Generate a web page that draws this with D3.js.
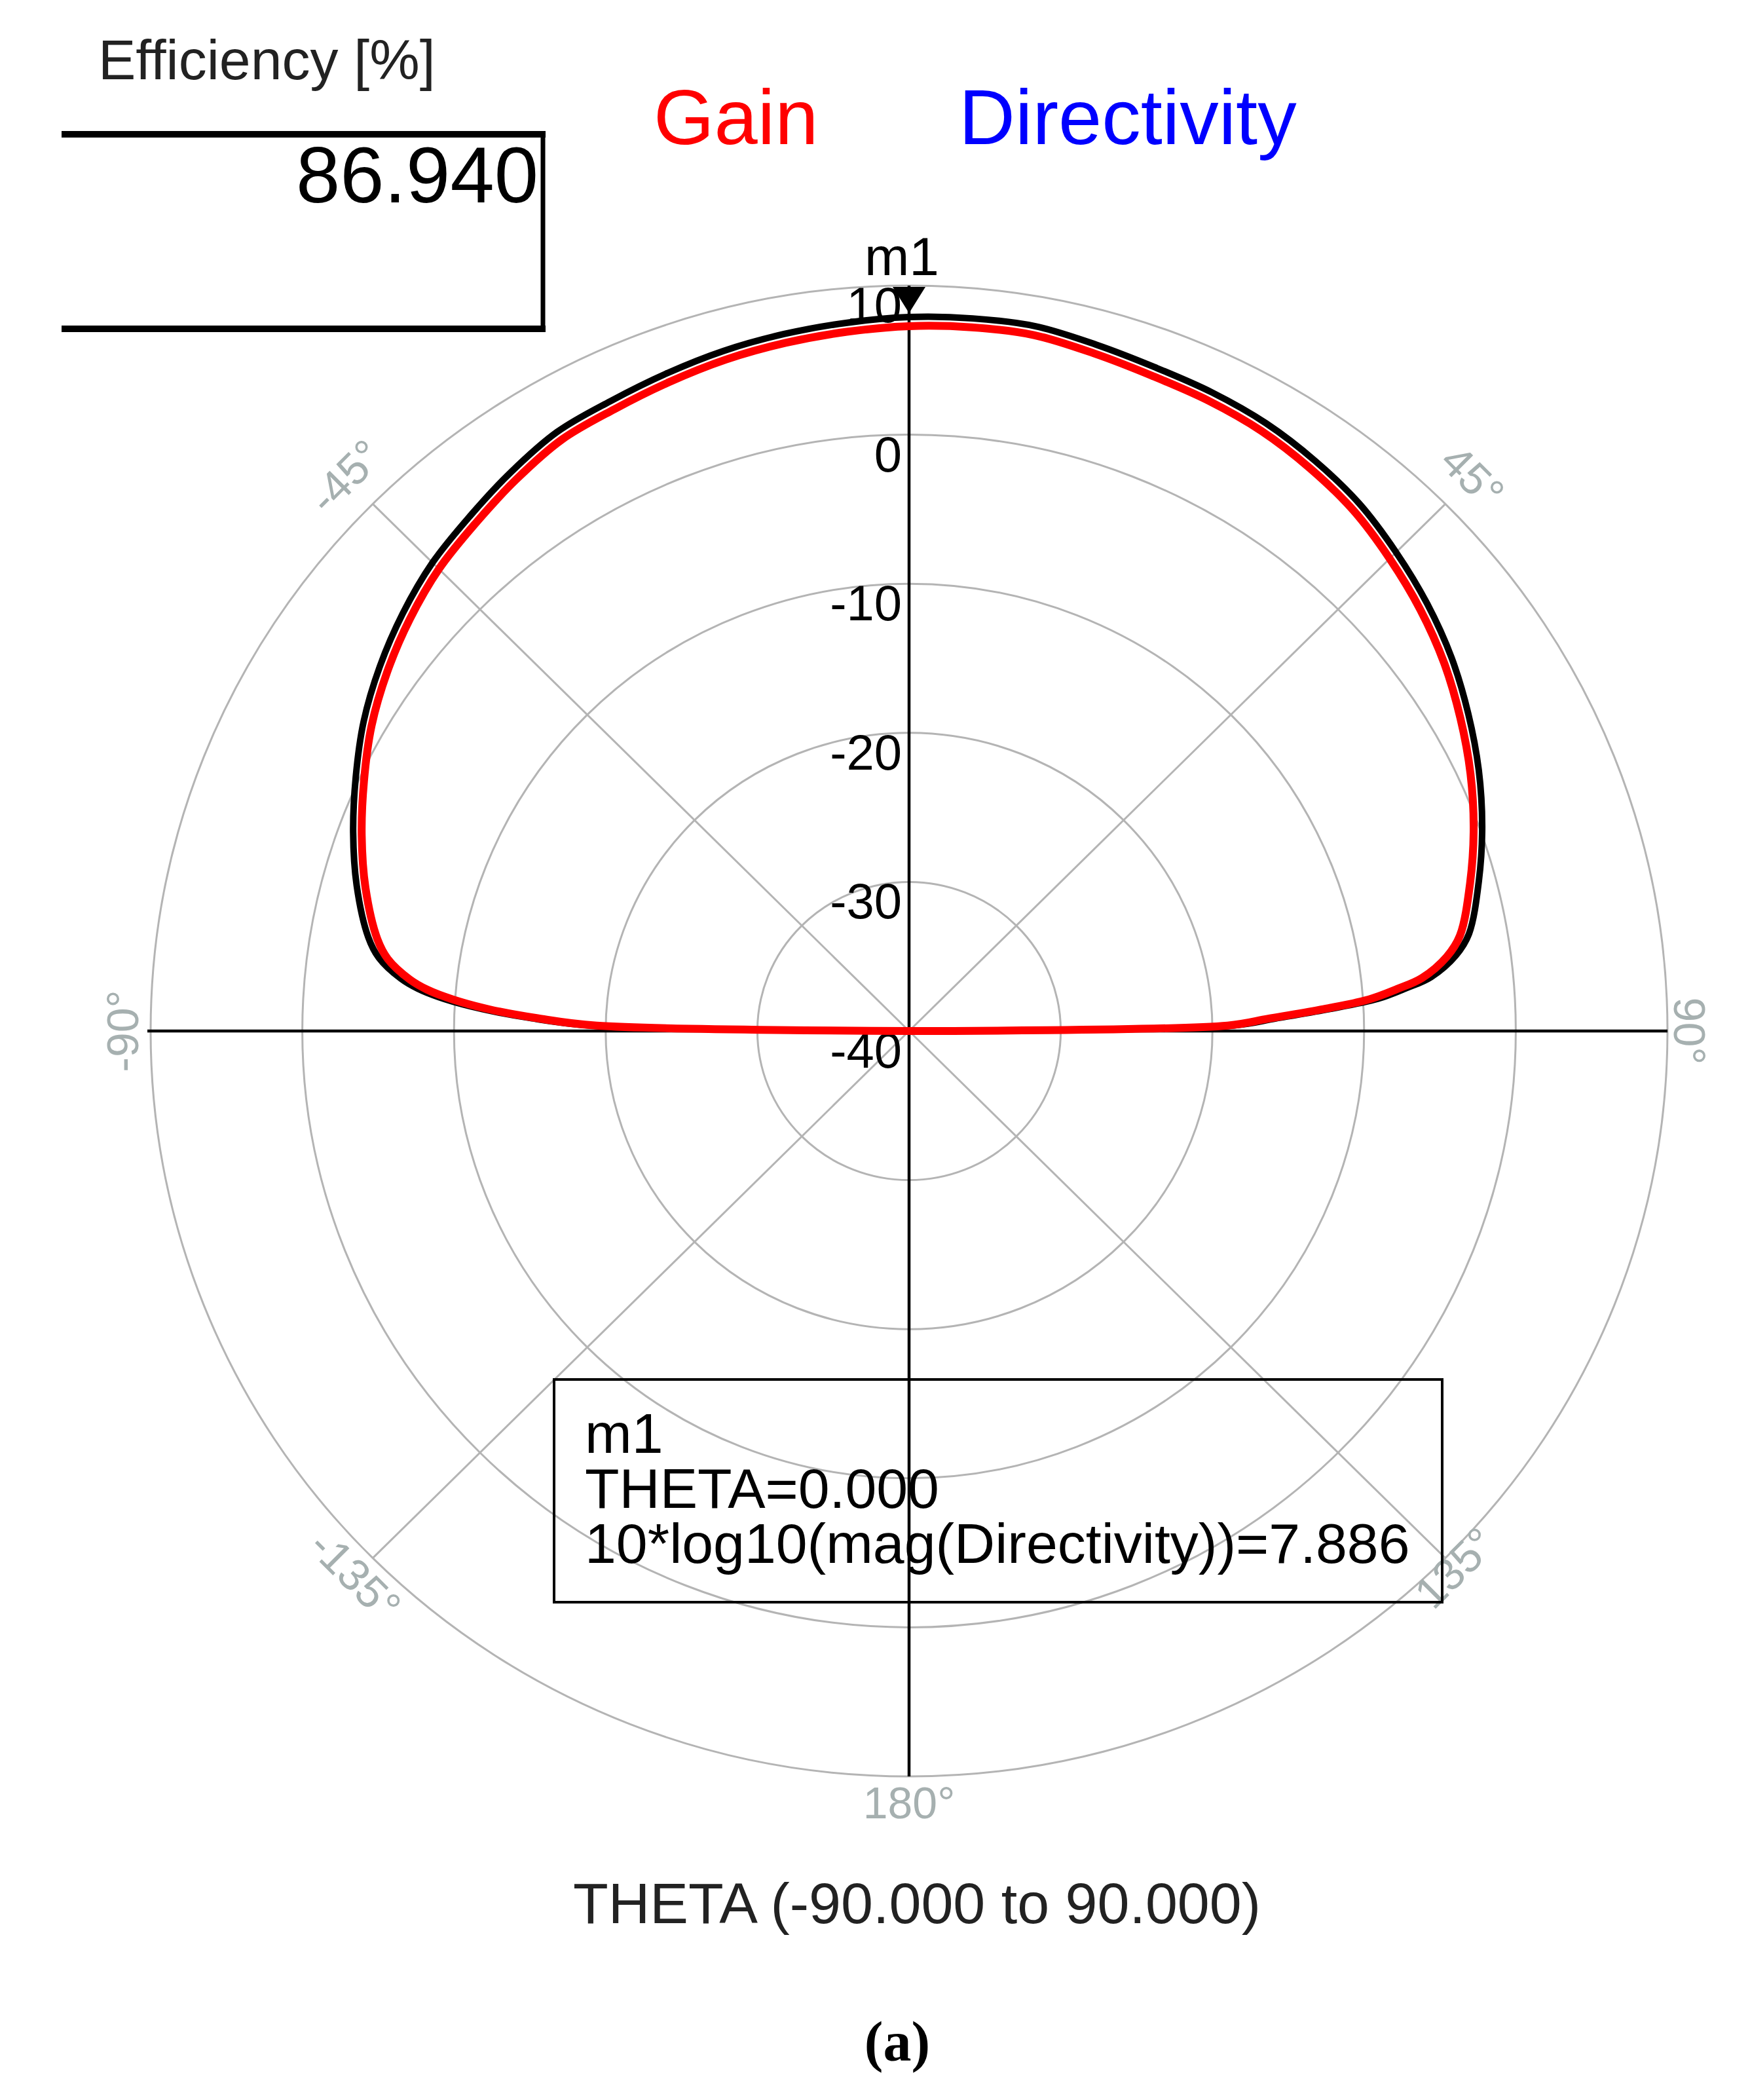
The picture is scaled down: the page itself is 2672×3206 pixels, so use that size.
<!doctype html>
<html>
<head>
<meta charset="utf-8">
<title>Gain / Directivity polar plot</title>
<script src="https://d3js.org/d3.v7.min.js"></script>
<style>
  body { margin: 0; background: #fff; }
  svg { display: block; font-family: "Liberation Sans", Arial, sans-serif; }
</style>
</head>
<body>
<script>

// theta sweep in degrees, values in dB
var theta       = [-90, -89, -88, -87, -86, -85, -84, -82, -80, -75, -70, -65, -60, -55, -50, -45, -40, -35, -30, -25, -20, -15, -10, -5, 0,
                   5, 10, 15, 20, 25, 30, 35, 40, 45, 50, 55, 60, 65, 70, 75, 80, 82, 84, 85, 86, 87, 88, 89, 90];
var gain        = [-45, -19.4, -15.5, -12.3, -9.9, -8.1, -6.9, -5.3, -4.4, -2.9, -1.6, -0.35, 0.92, 2.0, 2.97, 3.83, 4.46, 5.16, 5.8, 6.01, 6.31, 6.63, 6.87, 7.08, 7.28,
                   7.38, 7.4, 7.06, 6.78, 6.66, 6.47, 6.08, 5.58, 4.81, 3.99, 3.06, 1.97, 0.84, -0.39, -1.71, -3.12, -4.2, -6.0, -7.7, -9.6, -12.9, -16.3, -19.0, -45];
var directivity = [-45, -19.0, -15.0, -11.8, -9.3, -7.5, -6.3, -4.7, -3.8, -2.3, -1.0, 0.25, 1.52, 2.6, 3.57, 4.43, 5.06, 5.76, 6.4, 6.61, 6.91, 7.23, 7.47, 7.68, 7.886,
                   7.98, 8.0, 7.66, 7.38, 7.26, 7.07, 6.68, 6.18, 5.41, 4.59, 3.66, 2.57, 1.44, 0.21, -1.11, -2.52, -3.6, -5.4, -7.1, -9.0, -12.4, -15.8, -18.6, -45];

var ringValues = [10, 0, -10, -20, -30, -40];
var spokeAngles = [-135, -45, 45, 135];
var angleTicks = [-90, -45, 45, 90, 135, 180, -135];
var angleTickLabels = ["-90\u00b0", "-45\u00b0", "45\u00b0", "90\u00b0", "135\u00b0", "180\u00b0", "-135\u00b0"];

var efficiencyTitle = "Efficiency [%]";
var efficiencyValue = "86.940";
var markerName = "m1";
var markerTheta = 0;
var markerValue = 7.886;
var markerLines = ["m1", "THETA=0.000", "10*log10(mag(Directivity))=7.886"];
var legendNames = ["Gain", "Directivity"];
var legendColors = ["#ff0000", "#0000ff"];
var xTitle = "THETA (-90.000 to 90.000)";
var caption = "(a)";

var width = 2672, height = 3206;
var cx = 1388, cy = 1574;

var svg = d3.select("body").append("svg").attr("width", width).attr("height", height);
svg.append("rect").attr("width", width).attr("height", height).attr("fill", "#fff");

// slightly wider than tall, like the exported picture
var rx = d3.scaleLinear().domain([-40, 10]).range([0, 1158]).clamp(true);
var ry = d3.scaleLinear().domain([-40, 10]).range([0, 1138]).clamp(true);
var rad = d3.scaleLinear().domain([0, 180]).range([0, Math.PI]);

function px(t, v) { return cx + rx(v) * Math.sin(rad(t)); }
function py(t, v) { return cy - ry(v) * Math.cos(rad(t)); }

var grid = svg.append("g").attr("fill", "none").attr("stroke", "#b4b4b4").attr("stroke-width", 3);

grid.selectAll("ellipse").data(ringValues.filter(function(v) { return v > -40; }))
  .enter().append("ellipse")
  .attr("cx", cx).attr("cy", cy)
  .attr("rx", function(v) { return rx(v); })
  .attr("ry", function(v) { return ry(v); });

grid.selectAll("line").data(spokeAngles)
  .enter().append("line")
  .attr("x1", cx).attr("y1", cy)
  .attr("x2", function(a) { return px(a, 10); })
  .attr("y2", function(a) { return py(a, 10); });

// main axes
var axes = svg.append("g").attr("stroke", "#000").attr("stroke-width", 4.5);
axes.append("line").attr("x1", px(-90, 10) - 5).attr("y1", cy).attr("x2", px(90, 10)).attr("y2", cy);
axes.append("line").attr("x1", cx).attr("y1", py(0, 10)).attr("x2", cx).attr("y2", py(180, 10));

// radial tick labels
svg.append("g").selectAll("text").data(ringValues)
  .enter().append("text")
  .attr("x", cx - 11)
  .attr("y", function(v) { return cy - ry(v) + 56; })
  .attr("text-anchor", "end")
  .attr("font-size", 76)
  .attr("fill", "#000")
  .text(function(v) { return v; });

// angle labels
var labelGap = { "-90": 43, "90": 34, "180": 40, "45": 60, "-45": 60, "135": 20, "-135": 37 };
svg.append("g").selectAll("text").data(angleTicks)
  .enter().append("text")
  .attr("transform", function(a) {
    var g = labelGap[a];
    var x = cx + (rx(10) + g) * Math.sin(rad(a));
    var y = cy - (ry(10) + g) * Math.cos(rad(a));
    var rot = Math.abs(a) <= 90 ? a : (a > 0 ? a - 180 : a + 180);
    return "translate(" + x + "," + y + ") rotate(" + rot + ")";
  })
  .attr("text-anchor", "middle")
  .attr("dy", "0.36em")
  .attr("font-size", 68)
  .attr("fill", "#a6b0b0")
  .text(function(a, i) { return angleTickLabels[i]; });

// pattern curves
var line = d3.line()
  .x(function(d) { return px(d.t, d.v); })
  .y(function(d) { return py(d.t, d.v); })
  .curve(d3.curveCatmullRom.alpha(0.5));

svg.append("path")
  .datum(theta.map(function(t, i) { return { t: t, v: directivity[i] }; }))
  .attr("d", line)
  .attr("fill", "none").attr("stroke", "#000").attr("stroke-width", 10)
  .attr("stroke-linejoin", "round");

svg.append("path")
  .datum(theta.map(function(t, i) { return { t: t, v: gain[i] }; }))
  .attr("d", line)
  .attr("fill", "none").attr("stroke", "#ff0000").attr("stroke-width", 12)
  .attr("stroke-linejoin", "round");

// marker m1
var mx = px(markerTheta, markerValue), my = py(markerTheta, markerValue) - 6;
svg.append("path")
  .attr("d", "M" + mx + "," + my + " L" + (mx - 25) + "," + (my - 40) + " L" + (mx + 25) + "," + (my - 40) + " Z")
  .attr("fill", "#000");
svg.append("text")
  .attr("x", mx - 11).attr("y", my - 58)
  .attr("text-anchor", "middle").attr("font-size", 82)
  .text(markerName);

// marker readout box
svg.append("rect")
  .attr("x", 846).attr("y", 2106).attr("width", 1356).attr("height", 340)
  .attr("fill", "none").attr("stroke", "#000").attr("stroke-width", 4);
svg.append("g").selectAll("text").data(markerLines)
  .enter().append("text")
  .attr("x", 893)
  .attr("y", function(d, i) { return 2218 + i * 84; })
  .attr("font-size", 86)
  .text(function(d) { return d; });

// efficiency readout
svg.append("text").attr("x", 150).attr("y", 121).attr("font-size", 86).attr("fill", "#222").text(efficiencyTitle);
var effBox = svg.append("g").attr("stroke", "#000");
effBox.append("line").attr("x1", 94).attr("y1", 205).attr("x2", 833).attr("y2", 205).attr("stroke-width", 10);
effBox.append("line").attr("x1", 94).attr("y1", 502).attr("x2", 833).attr("y2", 502).attr("stroke-width", 10);
effBox.append("line").attr("x1", 829).attr("y1", 200).attr("x2", 829).attr("y2", 507).attr("stroke-width", 7);
svg.append("text").attr("x", 822).attr("y", 309).attr("text-anchor", "end").attr("font-size", 121).text(efficiencyValue);

// legend
var legendX = [998, 1464], legendSize = [119, 119];
svg.append("g").selectAll("text").data(legendNames)
  .enter().append("text")
  .attr("x", function(d, i) { return legendX[i]; })
  .attr("y", 220)
  .attr("font-size", function(d, i) { return legendSize[i]; })
  .attr("fill", function(d, i) { return legendColors[i]; })
  .text(function(d) { return d; });

// axis title and caption
svg.append("text").attr("x", 1400).attr("y", 2936).attr("text-anchor", "middle")
  .attr("font-size", 88).attr("fill", "#222").text(xTitle);
svg.append("text").attr("x", 1370).attr("y", 3146).attr("text-anchor", "middle")
  .attr("font-size", 86).attr("font-family", "'Liberation Serif', 'Times New Roman', serif")
  .attr("font-weight", "bold").text(caption);

</script>
</body>
</html>
